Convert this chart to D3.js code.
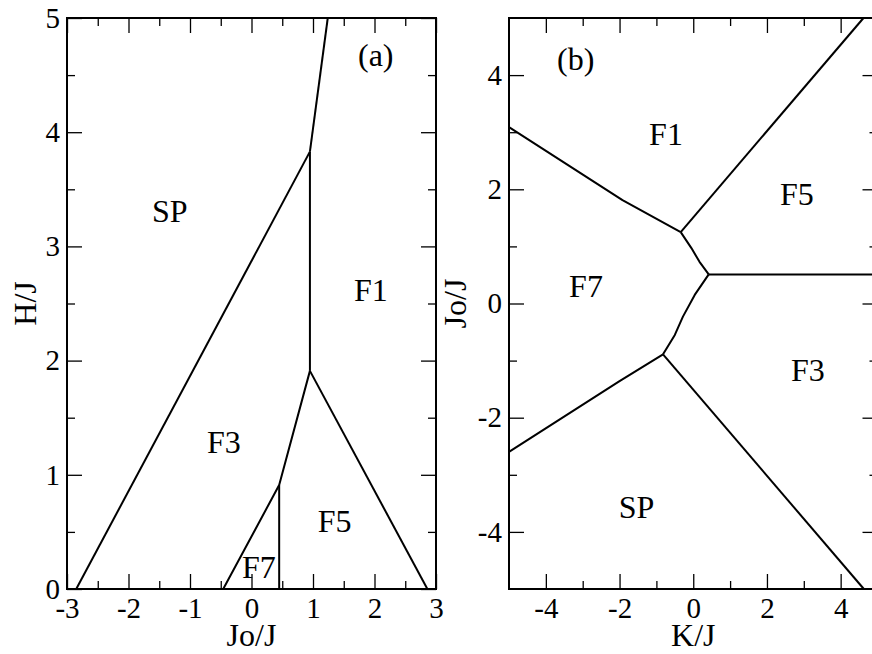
<!DOCTYPE html>
<html>
<head>
<meta charset="utf-8">
<style>
  body { margin: 0; background: #fff; }
  svg { display: block; }
  text { font-family: "Liberation Serif", "Times New Roman", serif; fill: #000; }
</style>
<script src="https://d3js.org/d3.v7.min.js"></script>
</head>
<body>
<svg id="chart" width="872" height="654"></svg>
<script>
// ---- panel (a): H/J against Jo/J ----
var aXTicks = [-3, -2, -1, 0, 1, 2, 3];
var aXMinor = [-2.5, -1.5, -0.5, 0.5, 1.5, 2.5];
var aYTicks = [0, 1, 2, 3, 4, 5];
var aYMinor = [0.5, 1.5, 2.5, 3.5, 4.5];

var aSpF3  = [[-2.85, 0], [0.95, 3.83]];
var aSpF1  = [[0.95, 3.83], [1.24, 5]];
var aF3F1  = [[0.95, 1.91], [0.95, 3.83]];
var aF3F5  = [[-0.46, 0], [0.45, 0.91], [0.95, 1.91]];
var aF7F5  = [[0.45, 0], [0.45, 0.91]];
var aF5F1  = [[0.95, 1.91], [2.86, 0]];

var aLabels = [
  ["SP", -1.33, 3.21],
  ["(a)", 2.02, 4.58],
  ["F1", 1.94, 2.52],
  ["F3", -0.45, 1.19],
  ["F5", 1.35, 0.50],
  ["F7", 0.12, 0.094]
];

// ---- panel (b): Jo/J against K/J ----
var bXTicks = [-4, -2, 0, 2, 4];
var bXMinor = [-3, -1, 1, 3];
var bYTicks = [-4, -2, 0, 2, 4];
var bYMinor = [-3, -1, 1, 3];

var bF1F7 = [[-5, 3.09], [-1.92, 1.81], [-0.34, 1.25]];
var bF1F5 = [[-0.34, 1.25], [4.62, 5]];
var bF7F5 = [[-0.34, 1.25], [-0.05, 0.97], [0.17, 0.73], [0.42, 0.51]];
var bF5F3 = [[0.42, 0.51], [5, 0.51]];
var bF7F3 = [[0.42, 0.51], [0.04, 0.15], [-0.28, -0.23], [-0.5, -0.55], [-0.82, -0.89]];
var bF7SP = [[-5, -2.6], [-2.0, -1.36], [-0.82, -0.89]];
var bSPF3 = [[-0.82, -0.89], [4.63, -5]];

var bLabels = [
  ["(b)", -3.19, 4.09],
  ["F1", -0.74, 2.78],
  ["F5", 2.81, 1.72],
  ["F7", -2.91, 0.12],
  ["F3", 3.11, -1.35],
  ["SP", -1.54, -3.76]
];

var svg = d3.select("#chart");
var top_ = 18, bottom = 589;

function drawPanel(o) {
  var x = d3.scaleLinear().domain(o.xDom).range([o.left, o.right]);
  var y = d3.scaleLinear().domain(o.yDom).range([bottom, top_]);
  var g = svg.append("g");

  function style(sel) {
    sel.attr("font-family", "Liberation Serif, serif").attr("font-size", 29);
    sel.select(".domain").remove();
    sel.selectAll(".tick line").attr("stroke", "#000").attr("stroke-width", 1.3);
    sel.selectAll(".tick text").attr("fill", "#000");
  }
  var fmt = function (d) { return String(d); };

  // major ticks, labelled
  g.append("g").attr("transform", "translate(0," + bottom + ")")
    .call(d3.axisBottom(x).tickValues(o.xTicks).tickSizeInner(-15).tickSizeOuter(0).tickPadding(8).tickFormat(fmt)).call(style);
  g.append("g").attr("transform", "translate(" + o.left + ",0)")
    .call(d3.axisLeft(y).tickValues(o.yTicks).tickSizeInner(-15).tickSizeOuter(0).tickPadding(7).tickFormat(fmt)).call(style);
  g.append("g").attr("transform", "translate(0," + top_ + ")")
    .call(d3.axisTop(x).tickValues(o.xTicks).tickSizeInner(-15).tickSizeOuter(0).tickFormat("")).call(style);
  g.append("g").attr("transform", "translate(" + o.right + ",0)")
    .call(d3.axisRight(y).tickValues(o.yTicks).tickSizeInner(-15).tickSizeOuter(0).tickFormat("")).call(style);

  // minor ticks
  g.append("g").attr("transform", "translate(0," + bottom + ")")
    .call(d3.axisBottom(x).tickValues(o.xMinor).tickSizeInner(-8).tickSizeOuter(0).tickFormat("")).call(style);
  g.append("g").attr("transform", "translate(" + o.left + ",0)")
    .call(d3.axisLeft(y).tickValues(o.yMinor).tickSizeInner(-8).tickSizeOuter(0).tickFormat("")).call(style);
  g.append("g").attr("transform", "translate(0," + top_ + ")")
    .call(d3.axisTop(x).tickValues(o.xMinor).tickSizeInner(-8).tickSizeOuter(0).tickFormat("")).call(style);
  g.append("g").attr("transform", "translate(" + o.right + ",0)")
    .call(d3.axisRight(y).tickValues(o.yMinor).tickSizeInner(-8).tickSizeOuter(0).tickFormat("")).call(style);

  // frame
  g.append("rect")
    .attr("x", o.left).attr("y", top_)
    .attr("width", o.right - o.left).attr("height", bottom - top_)
    .attr("fill", "none").attr("stroke", "#000").attr("stroke-width", 2);

  // phase boundaries
  var line = d3.line().x(function (d) { return x(d[0]); }).y(function (d) { return y(d[1]); });
  g.selectAll("path.boundary").data(o.lines).join("path")
    .attr("class", "boundary")
    .attr("d", line)
    .attr("fill", "none").attr("stroke", "#000").attr("stroke-width", 2)
    .attr("stroke-linejoin", "round");

  // region labels
  g.selectAll("text.region").data(o.labels).join("text")
    .attr("class", "region")
    .attr("x", function (d) { return x(d[1]); })
    .attr("y", function (d) { return y(d[2]); })
    .attr("text-anchor", "middle")
    .attr("font-size", 32)
    .text(function (d) { return d[0]; });

  // axis titles
  g.append("text")
    .attr("x", (o.left + o.right) / 2).attr("y", 646)
    .attr("text-anchor", "middle").attr("font-size", 32)
    .text(o.xTitle);
  g.append("text")
    .attr("transform", "translate(" + o.yTitleX + "," + ((top_ + bottom) / 2) + ") rotate(-90)")
    .attr("text-anchor", "middle").attr("font-size", 32)
    .text(o.yTitle);
}

drawPanel({
  left: 67, right: 436, xDom: [-3, 3], yDom: [0, 5],
  xTicks: aXTicks, xMinor: aXMinor, yTicks: aYTicks, yMinor: aYMinor,
  lines: [aSpF3, aSpF1, aF3F1, aF3F5, aF7F5, aF5F1],
  labels: aLabels, xTitle: "Jo/J", yTitle: "H/J", yTitleX: 36
});

drawPanel({
  left: 509, right: 877.5, xDom: [-5, 5], yDom: [-5, 5],
  xTicks: bXTicks, xMinor: bXMinor, yTicks: bYTicks, yMinor: bYMinor,
  lines: [bF1F7, bF1F5, bF7F5, bF5F3, bF7F3, bF7SP, bSPF3],
  labels: bLabels, xTitle: "K/J", yTitle: "Jo/J", yTitleX: 466
});
</script>
</body>
</html>
